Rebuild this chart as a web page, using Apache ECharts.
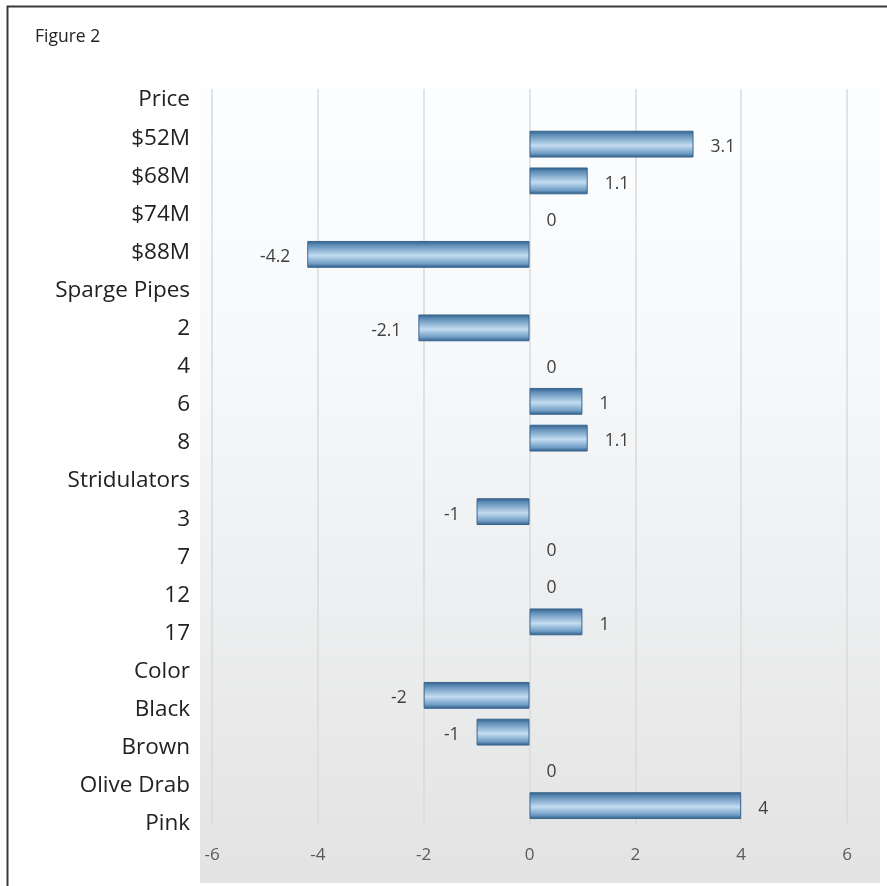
<!DOCTYPE html>
<html>
<head>
<meta charset="utf-8">
<script src="https://cdn.jsdelivr.net/npm/echarts@6/dist/echarts.min.js"></script>
<style>
  html, body { margin: 0; padding: 0; background: #fff; }
  #chart { width: 887px; height: 886px; }
</style>
</head>
<body>
<div id="chart"></div>
<script>
// rows of the chart, top to bottom (group headers have no value)
var categories = ['Price', '$52M', '$68M', '$74M', '$88M',
    'Sparge Pipes', '2', '4', '6', '8',
    'Stridulators', '3', '7', '12', '17',
    'Color', 'Black', 'Brown', 'Olive Drab', 'Pink'];
var values = [null, 3.1, 1.1, 0, -4.2,
    null, -2.1, 0, 1, 1.1,
    null, -1, 0, 0, 1,
    null, -2, -1, 0, 4];
var xTicks = [-6, -4, -2, 0, 2, 4, 6];

var myChart = echarts.init(document.getElementById('chart'));

var barFill = new echarts.graphic.LinearGradient(0, 0, 0, 1, [
    { offset: 0, color: '#2f5d86' },
    { offset: 0.15, color: '#5d8cb6' },
    { offset: 0.55, color: '#c3dcf1' },
    { offset: 0.85, color: '#6f9cc4' },
    { offset: 1, color: '#2b5882' }
]);

var barData = values.map(function (v) {
    if (v === null) return { value: '-', label: { show: false } };
    var item = { value: v, label: { position: v < 0 ? 'left' : 'right' } };
    if (v === 0) item.itemStyle = { borderWidth: 0 };
    return item;
});

var option = {
    animation: false,
    textStyle: { fontFamily: 'Open Sans' },
    graphic: [
        {
            type: 'rect', z: -10, silent: true,
            shape: { x: 200, y: 84, width: 680, height: 799 },
            style: {
                fill: new echarts.graphic.LinearGradient(0, 0, 0, 1, [
                    { offset: 0, color: '#fdfeff' },
                    { offset: 0.35, color: '#f6f8fa' },
                    { offset: 1, color: '#e3e3e3' }
                ])
            }
        },
        {
            type: 'polyline', z: 10, silent: true,
            shape: { points: [[7.5, 886], [7.5, 6.5], [887, 6.5]] },
            style: { stroke: '#3a3a3a', lineWidth: 2, fill: null }
        },
        {
            type: 'text', left: 35, top: 28,
            style: { text: 'Figure 2', fontSize: 17.5, fill: '#222', fontFamily: 'Open Sans' }
        }
    ],
    grid: [
        { left: 212, right: 40, top: 89, height: 735 },
        { left: 200, width: 1, top: 81, height: 762 }
    ],
    xAxis: [
        {
            gridIndex: 0, type: 'value', min: xTicks[0], max: xTicks[xTicks.length - 1], interval: 2,
            axisLine: { show: false }, axisTick: { show: false },
            axisLabel: { color: '#5a5a5a', fontSize: 17, margin: 23 },
            splitLine: { lineStyle: { color: '#dadada', width: 1.5 } }
        },
        { gridIndex: 1, type: 'value', show: false }
    ],
    yAxis: [
        {
            gridIndex: 0, type: 'category', data: categories, inverse: true,
            axisLine: { show: false }, axisTick: { show: false }, axisLabel: { show: false }
        },
        {
            gridIndex: 1, type: 'category', data: categories, inverse: true,
            axisLine: { show: false }, axisTick: { show: false },
            axisLabel: { color: '#222', fontSize: 22.5, margin: 10 }
        }
    ],
    series: [
        {
            type: 'bar',
            xAxisIndex: 0, yAxisIndex: 0,
            data: barData,
            barCategoryGap: '27%',
            itemStyle: { color: barFill, borderColor: '#3a6790', borderWidth: 1 },
            label: {
                show: true, distance: 17, offset: [0, 3],
                color: '#404040', fontSize: 17.5
            }
        }
    ]
};

myChart.setOption(option);
</script>
</body>
</html>
